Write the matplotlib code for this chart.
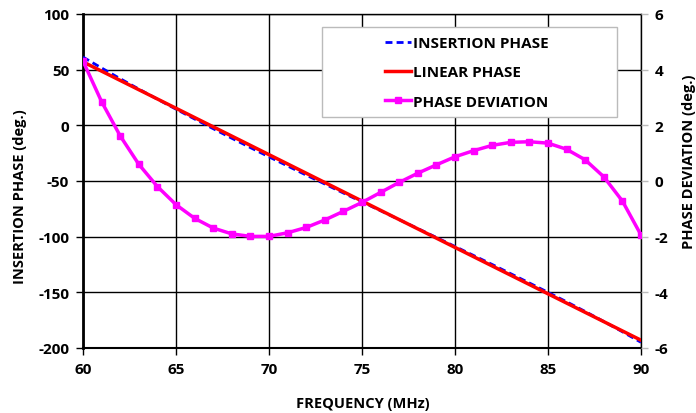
import matplotlib
matplotlib.use("Agg")
import matplotlib.pyplot as plt
from matplotlib.lines import Line2D
from matplotlib.patches import Rectangle

plt.rcParams['font.family'] = ['Open Sans', 'DejaVu Sans']
plt.rcParams['font.weight'] = 'bold'
plt.rcParams['axes.unicode_minus'] = False

freq = list(range(60, 91))

# phase deviation (deg.), read per MHz
deviation = [4.31, 2.85, 1.62, 0.60, -0.20, -0.85, -1.34, -1.69, -1.90, -1.99,
             -1.99, -1.86, -1.67, -1.40, -1.09, -0.77, -0.41, -0.05, 0.28, 0.58,
             0.87, 1.09, 1.28, 1.39, 1.41, 1.36, 1.14, 0.76, 0.15, -0.72, -1.94]

# insertion phase (deg.)
insertion = [61.3, 51.5, 41.9, 32.6, 23.5, 14.5, 5.7, -3.0, -11.6, -20.0,
             -28.3, -36.5, -44.7, -52.7, -60.8, -68.8, -76.7, -84.7, -92.7, -100.7,
             -108.8, -116.9, -125.0, -133.3, -141.6, -150.0, -158.5, -167.2, -176.2, -185.4, -194.9]

# linear phase fit (end points)
lin_freq = [60, 90]
linear = [57.0, -193.0]

W, H = 696, 414
fig = plt.figure(figsize=(W / 100, H / 100), dpi=100)
ax = fig.add_axes([83/W, 1-349/H, (641-83)/W, (349-15)/H])
ax2 = ax.twinx()

ax.plot(freq, insertion, color='blue', lw=2, ls=(0, (2.5, 1.5)), zorder=3)
ax.plot(lin_freq, linear, color='red', lw=2.5, zorder=4)
ax2.plot(freq, deviation, color='#ff00ff', lw=2.5, marker='s', ms=4, zorder=5)

ax.set_xlim(60, 90)
ax.set_ylim(-200, 100)
ax2.set_ylim(-6, 6)
ax.set_xticks(range(60, 91, 5))
ax.set_yticks(range(-200, 101, 50))
ax2.set_yticks(range(-6, 7, 2))

ax.grid(True, color='black', lw=1)
ax.set_axisbelow(True)

for s in ['top', 'right']:
    ax.spines[s].set_linewidth(1)
ax.spines['left'].set_linewidth(2)
ax.spines['bottom'].set_linewidth(1.5)
for s in ['right', 'left', 'top', 'bottom']:
    ax2.spines[s].set_visible(False)

ax.tick_params(labelsize=11, length=5, width=1, pad=5)
ax2.tick_params(labelsize=11, length=5, width=1, color='#bbbbbb', pad=5)

# axis titles placed in figure pixels
fig.text(363/W, 1-404/H, 'FREQUENCY (MHz)', fontsize=10.5, fontweight='bold', ha='center', va='center')
fig.text(20/W, 1-197/H, 'INSERTION PHASE (deg.)', fontsize=10.5, fontweight='bold',
         rotation=90, ha='center', va='center')
fig.text(689/W, 1-162/H, 'PHASE DEVIATION (deg.)', fontsize=10.5, fontweight='bold',
         rotation=90, ha='center', va='center')

# legend box
ax2.add_patch(Rectangle(((322-83)/558, (349-118)/334), (617-322)/558, 90/334,
                        transform=ax2.transAxes, facecolor='white', edgecolor='#bbbbbb',
                        lw=1, zorder=10))
handles = [
    Line2D([], [], color='blue', lw=2, ls=(0, (2.5, 1.5))),
    Line2D([], [], color='red', lw=2.5),
    Line2D([], [], color='#ff00ff', lw=2.5, marker='s', ms=4),
]
leg = ax2.legend(handles, ['INSERTION PHASE', 'LINEAR PHASE', 'PHASE DEVIATION'],
                 loc='upper left', bbox_to_anchor=((385-83)/558, (349-37)/334), fontsize=11,
                 frameon=False, handlelength=1.7, handletextpad=0.15, borderpad=0,
                 labelspacing=1.0, borderaxespad=0)
leg.set_zorder(11)
for t in leg.get_texts():
    t.set_fontweight('bold')

fig.savefig('out.png', dpi=100)
